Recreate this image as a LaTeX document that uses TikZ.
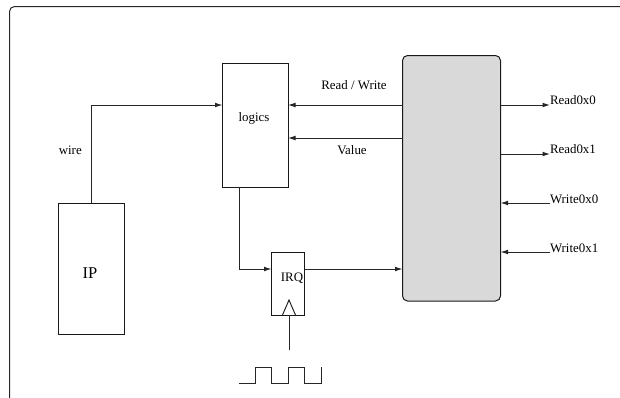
\documentclass[tikz,border=0pt]{standalone}
\usepackage{fontspec}
\setmainfont{Liberation Serif}
\usetikzlibrary{arrows.meta}
\tikzset{
  wirepath/.style={line width=1bp,draw=black!85},
  conn/.style={wirepath,-{Latex[length=7.5bp,width=4.8bp]}},
  blockbox/.style={draw=black!90,line width=1bp,minimum width=#1,inner sep=0pt,outer sep=0pt},
  lbl/.style={inner sep=0pt,outer sep=0pt,text=black,font=\fontsize{12.9bp}{15bp}\selectfont},
  port/.style={lbl,anchor=west}
}
\begin{document}
\begin{tikzpicture}[x=1bp,y=-1bp]
\useasboundingbox (0,0) rectangle (620,397);
\clip (0,0) rectangle (620,397);
% outer frame, running off the right and bottom of the page
\draw[line width=1bp,draw=black!85,rounded corners=5bp] (9.5,410) -- (9.5,6.5) -- (640,6.5);
% blocks
\node[blockbox=65.5bp,minimum height=124bp] (logics) at (255.25,125) {};
\node[blockbox=66bp,minimum height=131bp] (ip) at (91.5,268.5) {};
\node[blockbox=98bp,minimum height=245.5bp,fill=black!15,rounded corners=5bp] (hub) at (451.5,178.25) {};
\node[blockbox=33bp,minimum height=62.5bp] (irq) at (288,283.75) {};
% labels
\node[lbl] (tlogics) at (254,118) {logics};
\node[lbl,font=\fontsize{16.5bp}{18bp}\selectfont] (tip) at (90,273) {IP};
\node[lbl] (tirq) at (292,278) {IRQ};
\node[lbl] (twire) at (70.3,150) {wire};
\node[lbl] (trw) at (354,85) {Read / Write};
\node[lbl] (tval) at (352,150) {Value};
\node[port] (r0) at (550,100.5) {Read0x0};
\node[port] (r1) at (550,149.5) {Read0x1};
\node[port] (w0) at (550,199) {Write0x0};
\node[port] (w1) at (550,248) {Write0x1};
% connector ends
\coordinate (wiretop) at (91,105);
\coordinate (rwy) at (400,105);
\coordinate (valy) at (400,138);
\coordinate (irqin) at (239,269);
\coordinate (p0) at (550,105);
\coordinate (p1) at (550,154);
\coordinate (p2) at (550,203);
\coordinate (p3) at (550,252);
\coordinate (clkbase) at (289,315);
\coordinate (clkend) at (289,350);
% connectors
\draw[conn] (ip.north -| wiretop) -- (wiretop) -- (wiretop -| logics.west);
\draw[conn] (rwy -| hub.west) -- (rwy -| logics.east);
\draw[conn] (valy -| hub.west) -- (valy -| logics.east);
\draw[conn] (logics.south -| irqin) -- (irqin) -- (irqin -| irq.west);
\draw[conn] (irqin -| irq.east) -- (irqin -| hub.west);
\draw[conn] (p0 -| hub.east) -- (p0);
\draw[conn] (p1 -| hub.east) -- (p1);
\draw[conn] (p2) -- (p2 -| hub.east);
\draw[conn] (p3) -- (p3 -| hub.east);
% clock
\draw[wirepath,line join=miter] (282.5,315) -- (289,300) -- (295.5,315);
\draw[wirepath] (clkend) -- (clkbase);
\draw[wirepath] (239,383) -- (255,383) -- (255,367) -- (271,367) -- (271,383) -- (288,383) -- (288,367) -- (304.5,367) -- (304.5,383) -- (321,383) -- (321,367);
\end{tikzpicture}
\end{document}
